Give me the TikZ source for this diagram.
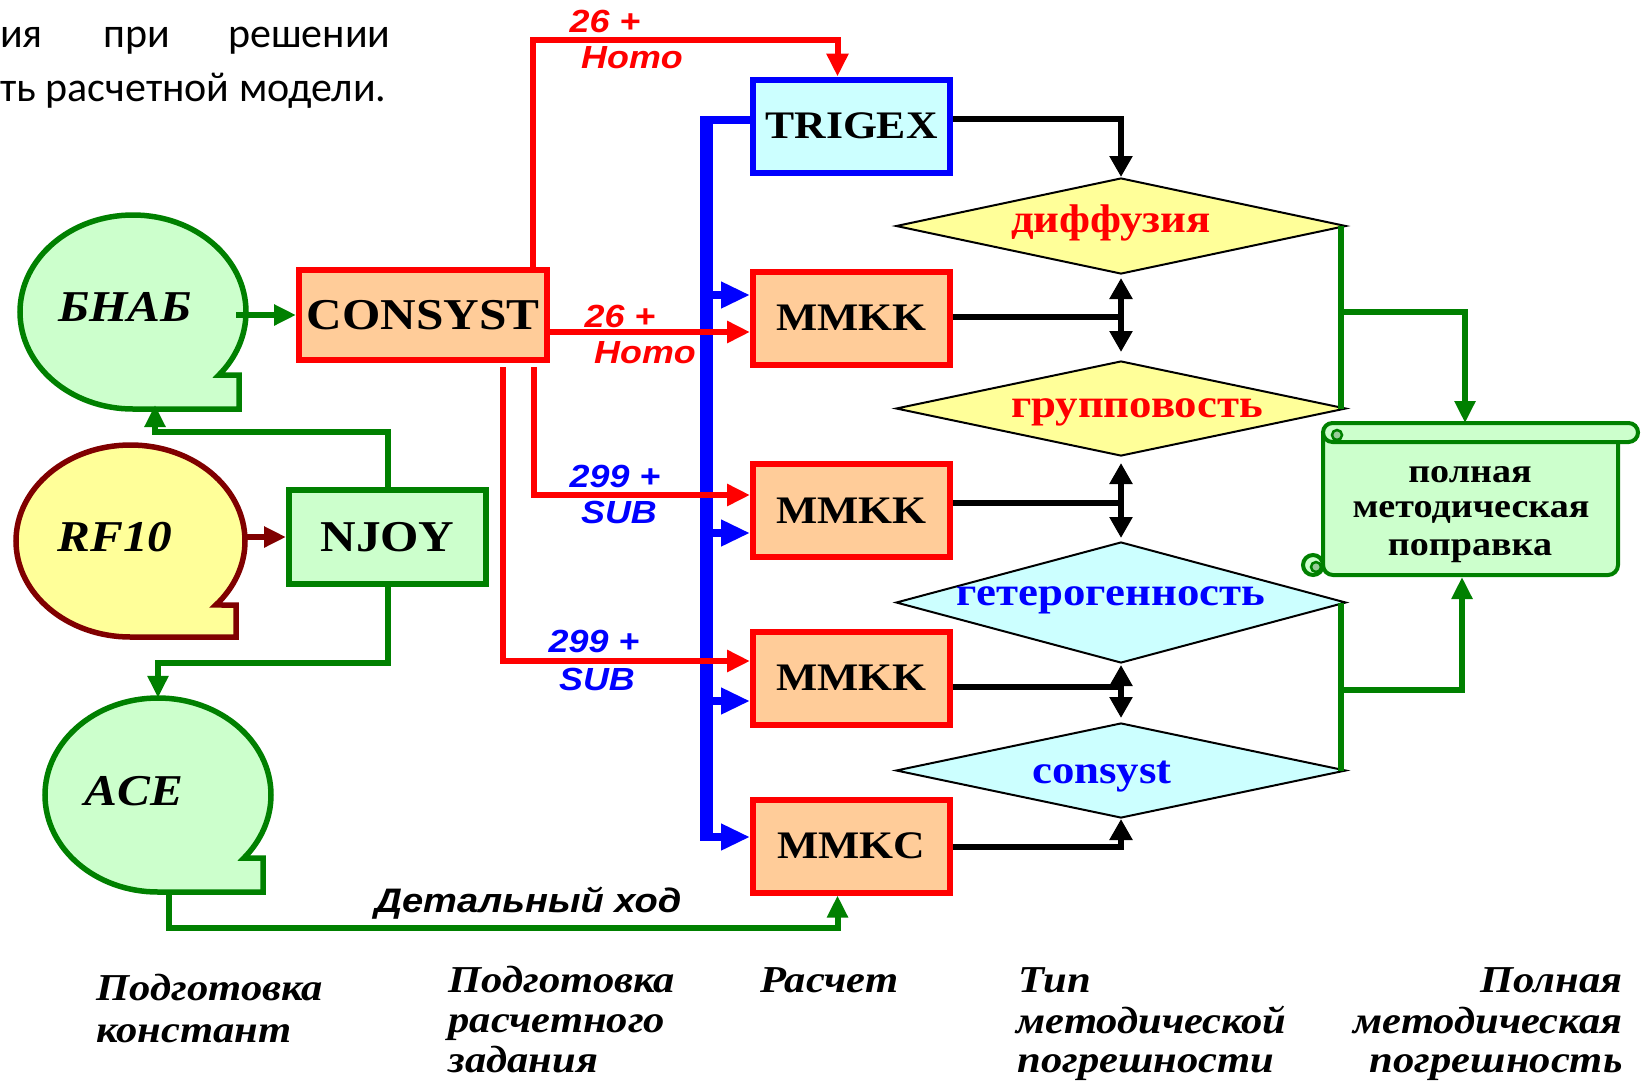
\documentclass[tikz,border=0pt]{standalone}
\usepackage{fontspec}
\setmainfont{Liberation Serif}
\newfontfamily\bxserif[FakeStretch=1.12]{Liberation Serif}
\newfontfamily\bxsans[FakeStretch=1.12]{Liberation Sans}
\newfontfamily\calibfont{Carlito}
\usetikzlibrary{arrows.meta,shapes.geometric}
\definecolor{gfill}{HTML}{CCFFCC}
\definecolor{gdark}{HTML}{008000}
\definecolor{gmid}{HTML}{99CC99}
\definecolor{ofill}{HTML}{FFCC99}
\definecolor{cfill}{HTML}{CCFFFF}
\definecolor{yfill}{HTML}{FFFF99}
\definecolor{dred}{HTML}{800000}
\newcommand\fsz[1]{\fontsize{#1}{#1}\selectfont}
\begin{document}
\begin{tikzpicture}[x=1pt,y=-1pt,
  box/.style={draw, line width=6pt, minimum width=197pt, minimum height=93pt, inner sep=0pt, font=\bxserif\bfseries\fsz{39}},
  obox/.style={box, draw=red, fill=ofill},
  tape/.style={line width=5.5pt},
  tapetxt/.style={font=\bxserif\bfseries\itshape\fsz{44}},
  tapenode/.style={ellipse, inner sep=0pt},
  dia/.style={diamond, draw=black, line width=2pt, minimum width=450pt, inner sep=0pt},
  diatxt/.style={font=\bxserif\bfseries\fsz{40}, anchor=base},
  lab/.style={font=\bxsans\bfseries\itshape\fsz{32}, anchor=base},
  bot/.style={font=\bxserif\bfseries\itshape\fsz{38}, anchor=base west},
  botr/.style={bot, anchor=base east},
  sctxt/.style={font=\bxserif\bfseries\fsz{34}, anchor=base},
  ptxt/.style={font=\calibfont\fsz{42}, anchor=base west, inner sep=0pt},
  rarr/.style={draw=red, line width=6pt, -{Triangle[length=23pt,width=21pt]}},
  garr/.style={draw=gdark, line width=6pt, -{Triangle[length=22pt,width=20pt]}},
  gline/.style={draw=gdark, line width=5.5pt},
  bline/.style={draw=blue, line width=8pt},
  barr/.style={bline, -{Triangle[length=29pt,width=25pt]}},
  kline/.style={draw=black, line width=6pt},
  karr/.style={kline, -{Triangle[length=21pt,width=22pt]}},
  kdarr/.style={kline, {Triangle[length=21pt,width=22pt]}-{Triangle[length=21pt,width=22pt]}},
  scr/.style={draw=gdark, fill=gfill, line width=4pt}
]
\useasboundingbox (0,0) rectangle (1644,1085);

% top-left paragraph fragment
\node[ptxt] (p1) at (0,47) {ия};
\node[ptxt] (p2) at (103,47) {при};
\node[ptxt] (p3) at (228,47) {решении};
\node[ptxt] (p4) at (0,101) {ть расчетной модели.};

% tape shapes
\filldraw[tape, fill=gfill, draw=gdark] (133,409) arc[start angle=90, end angle=400.5, x radius=113, y radius=97] -- (239,375) -- (239,409) -- cycle;
\filldraw[tape, fill=yfill, draw=dred] (130.5,637) arc[start angle=90, end angle=401.8, x radius=114.5, y radius=96] -- (236,605) -- (236,637) -- cycle;
\filldraw[tape, fill=gfill, draw=gdark] (158,892) arc[start angle=90, end angle=400.5, x radius=113, y radius=97] -- (263,858) -- (263,892) -- cycle;
\node[tapenode, minimum width=226pt, minimum height=194pt] (bnab) at (133,312) {};
\node[tapenode, minimum width=229pt, minimum height=192pt] (rf10) at (130.5,541) {};
\node[tapenode, minimum width=226pt, minimum height=194pt] (ace) at (158,795) {};
\node[tapetxt] (bnabt) at (125,307) {БНАБ};
\node[tapetxt] (rf10t) at (115,537) {RF10};
\node[tapetxt] (acet) at (134,791) {ACE};

% boxes
\node[obox, minimum width=248pt, minimum height=90pt, font=\bxserif\bfseries\fsz{44}] (consyst) at (423,315) {CONSYST};
\node[box, draw=gdark, fill=gfill, minimum height=94pt, font=\bxserif\bfseries\fsz{44}] (njoy) at (387.5,537) {NJOY};
\node[box, draw=blue, fill=cfill] (trigex) at (851.5,126) {TRIGEX};
\node[obox] (mmkk1) at (851.5,318) {MMKK};
\node[obox] (mmkk2) at (851.5,510.5) {MMKK};
\node[obox] (mmkk3) at (851.5,678) {MMKK};
\node[obox] (mmkc) at (851.5,846) {MMKC};

% diamonds
\node[dia, fill=yfill, minimum height=96pt] (diff) at (1121,226) {};
\node[dia, fill=yfill, minimum height=95pt] (grp) at (1121,408.5) {};
\node[dia, fill=cfill, minimum height=121pt] (het) at (1121,602.5) {};
\node[dia, fill=cfill, minimum height=95pt] (cns) at (1121,770.5) {};
\node[diatxt, text=red] (difft) at (1111,232) {диффузия};
\node[diatxt, text=red] (grpt) at (1137,417) {групповость};
\node[diatxt, text=blue] (hett) at (1111,605) {гетерогенность};
\node[diatxt, text=blue] (cnst) at (1102,783) {consyst};

% scroll
\filldraw[scr, rounded corners=10pt] (1323,432) -- (1323,575) -- (1618,575) -- (1618,440);
\filldraw[scr] (1313,565) circle[radius=10pt];
\filldraw[draw=gdark, fill=gmid, line width=2.5pt] (1316,567) circle[radius=5pt];
\filldraw[scr, rounded corners=9.5pt] (1323,423) rectangle (1638,442);
\filldraw[draw=gdark, fill=gmid, line width=2.5pt] (1337,435) circle[radius=5pt];
\node[sctxt] (sc1) at (1470,482) {полная};
\node[sctxt] (sc2) at (1471,517) {методическая};
\node[sctxt] (sc3) at (1470,555) {поправка};
\coordinate (sctop) at (1465,423);
\coordinate (scbot) at (1462,577);

% green connectors (left)
\coordinate (bnabout) at (236,315);
\draw[garr] (bnabout) -- (consyst.west);
\draw[draw=dred, line width=6pt, -{Triangle[length=22pt,width=20pt]}] (njoy.west -| rf10.east) -- (njoy.west);
\coordinate (j1) at (0,432);
\coordinate (bnabin) at (155,405);
\draw[garr] (njoy.north) |- (bnabin |- j1) -- (bnabin);
\coordinate (j2) at (0,663);
\draw[garr] (njoy.south) |- (ace.north |- j2) -- (ace.north);
\coordinate (j3) at (0,928);
\coordinate (acebot) at (169,892);
\coordinate (mmkcin) at ([xshift=-14pt]mmkc.south);
\draw[garr] (acebot) |- (mmkcin |- j3) -- (mmkcin);

% blue bus
\coordinate (bt) at (706,120);
\coordinate (bb) at (706,837);
\coordinate (busA) at (706,116);
\coordinate (busB) at (706,841);
\draw[bline] (trigex.west |- bt) -- (bt);
\draw[draw=blue, line width=13pt] (busA) -- (busB);
\draw[barr] (bb) -- (mmkc.west |- bb);
\coordinate (b1) at (706,295);
\coordinate (b2) at (706,533);
\coordinate (b3) at (706,701);
\draw[barr] (b1) -- (mmkk1.west |- b1);
\draw[barr] (b2) -- (mmkk2.west |- b2);
\draw[barr] (b3) -- (mmkk3.west |- b3);

% red connectors
\coordinate (ct) at ([xshift=110pt]consyst.north);
\coordinate (tt) at ([xshift=-14pt]trigex.north);
\coordinate (j4) at (0,40);
\draw[rarr] (ct) |- (tt |- j4) -- (tt);
\coordinate (j5) at (0,332);
\draw[rarr] (consyst.east |- j5) -- (mmkk1.west |- j5);
\coordinate (cs2) at ([xshift=111pt,yshift=-4pt]consyst.south);
\coordinate (j6) at (0,495);
\draw[rarr] (cs2) |- (mmkk2.west |- j6);
\coordinate (cs3) at ([xshift=80pt,yshift=-4pt]consyst.south);
\coordinate (j7) at (0,661);
\draw[rarr] (cs3) |- (mmkk3.west |- j7);

% black connectors
\coordinate (k0) at (0,119);
\draw[karr] (trigex.east |- k0) -| (diff.north);
\coordinate (k1) at (0,317);
\draw[kline] (mmkk1.east |- k1) -- (diff.south |- k1);
\draw[kdarr] ([yshift=-3pt]diff.south) -- ([yshift=8pt]grp.north);
\coordinate (k2) at (0,503);
\draw[kline] (mmkk2.east |- k2) -- (grp.south |- k2);
\draw[kdarr] ([yshift=-6pt]grp.south) -- ([yshift=3pt]het.north);
\coordinate (k3) at (0,687);
\draw[kline] (mmkk3.east |- k3) -- (het.south |- k3);
\draw[kdarr] ([yshift=-1pt]het.south) -- ([yshift=4pt]cns.north);
\coordinate (k4) at (0,847);
\draw[karr] (mmkc.east |- k4) -| (cns.south);

% green connectors (right)
\coordinate (g1) at (1341,0);
\draw[gline] (diff.east -| g1) -- (grp.east -| g1);
\coordinate (g2) at (1341,312);
\draw[garr] (g2) -| (sctop);
\draw[gline] (het.east -| g1) -- (cns.east -| g1);
\coordinate (g3) at (1341,690);
\draw[garr] (g3) -| (scbot);

% connector labels
\node[lab, text=red] (la1) at (605,32) {26 +};
\node[lab, text=red] (la2) at (632,68) {Homo};
\node[lab, text=red] (lb1) at (620,327) {26 +};
\node[lab, text=red] (lb2) at (645,363) {Homo};
\node[lab, text=blue] (lc1) at (615,487) {299 +};
\node[lab, text=blue] (lc2) at (619,523) {SUB};
\node[lab, text=blue] (ld1) at (594,652) {299 +};
\node[lab, text=blue] (ld2) at (597,690) {SUB};
\node[lab, font=\bxsans\bfseries\itshape\fsz{34}] (ldet) at (528,912) {Детальный ход};

% bottom captions
\node[bot] (c1a) at (93,1000) {Подготовка};
\node[bot] (c1b) at (93,1042) {констант};
\node[bot] (c2a) at (445,992) {Подготовка};
\node[bot] (c2b) at (445,1032) {расчетного};
\node[bot] (c2c) at (445,1072) {задания};
\node[bot] (c3a) at (757,992) {Расчет};
\node[bot] (c4a) at (1015,992) {Тип};
\node[bot] (c4b) at (1013,1033) {методической};
\node[bot] (c4c) at (1014,1072) {погрешности};
\node[botr] (c5a) at (1626,992) {Полная};
\node[botr] (c5b) at (1626,1033) {методическая};
\node[botr] (c5c) at (1626,1072) {погрешность};
\end{tikzpicture}
\end{document}
